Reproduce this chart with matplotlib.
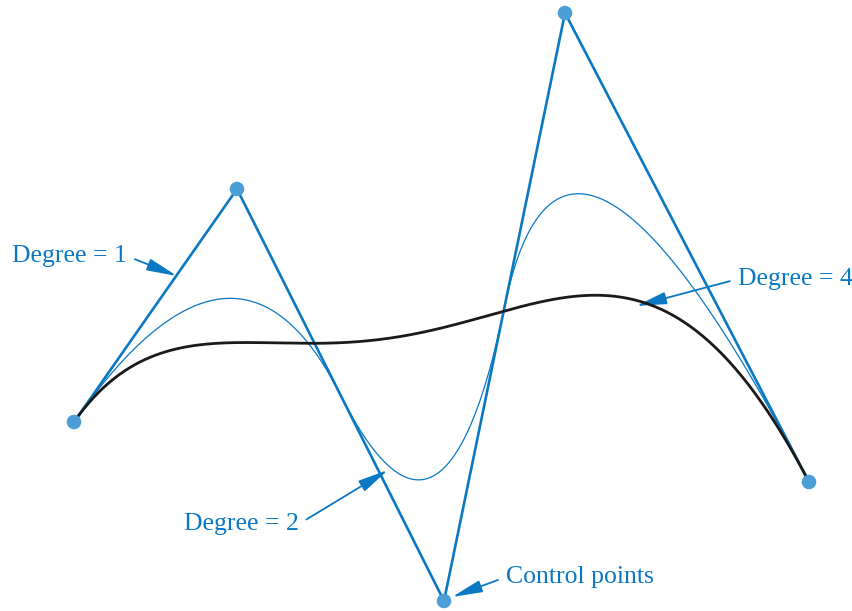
import numpy as np
import matplotlib.pyplot as plt

# Control points (pixel-like coordinates, y grows downward)
ctrl_x = np.array([74, 237, 444, 565, 809])
ctrl_y = np.array([422, 189, 601, 13, 482])

blue = '#0a78c2'
dot = '#4b9fd6'


def bspline(px, py, k, n=400):
    # clamped uniform B-spline of degree k
    m = len(px)
    inner = np.linspace(0, 1, m - k + 1)
    knots = np.concatenate([np.zeros(k), inner, np.ones(k)])
    t = np.linspace(0, 1, n)
    t[-1] = 1 - 1e-12
    N = np.zeros((n, len(knots) - 1))
    for i in range(len(knots) - 1):
        N[:, i] = (knots[i] <= t) & (t < knots[i + 1])
    for d in range(1, k + 1):
        Nn = np.zeros((n, len(knots) - 1 - d))
        for i in range(len(knots) - 1 - d):
            a = knots[i + d] - knots[i]
            b = knots[i + d + 1] - knots[i + 1]
            left = (t - knots[i]) / a * N[:, i] if a > 0 else 0
            right = (knots[i + d + 1] - t) / b * N[:, i + 1] if b > 0 else 0
            Nn[:, i] = left + right
        N = Nn
    return N @ px, N @ py


fig = plt.figure(figsize=(8.52, 6.11), dpi=100)
ax = fig.add_axes([0, 0, 1, 1])
ax.set_xlim(0, 852)
ax.set_ylim(611, 0)
ax.axis('off')

# Degree 1 (control polygon)
ax.plot(ctrl_x, ctrl_y, color=blue, lw=1.9, zorder=2)

# Degree 2
x2, y2 = bspline(ctrl_x, ctrl_y, 2)
ax.plot(x2, y2, color=blue, lw=0.9, zorder=3)

# Degree 4
x4, y4 = bspline(ctrl_x, ctrl_y, 4)
ax.plot(x4, y4, color='#1a1a1a', lw=2.0, zorder=4)

ax.scatter(ctrl_x, ctrl_y, s=110, color=dot, zorder=5, edgecolors='none')

fs = 18.5
font = 'Liberation Serif'


def arrow(rel):
    return dict(arrowstyle='-|>,head_length=1.0,head_width=0.2', color=blue, lw=1.3,
                shrinkA=4, shrinkB=0, relpos=rel)


ax.annotate('Degree = 1', xy=(177, 276), xytext=(12, 256), color=blue, fontsize=fs,
            family=font, va='center', ha='left', arrowprops=arrow((1, 0.5)))
ax.annotate('Degree = 2', xy=(388, 470), xytext=(299, 524), color=blue, fontsize=fs,
            family=font, va='center', ha='right', arrowprops=arrow((1, 0.5)))
ax.annotate('Control points', xy=(452, 597), xytext=(506, 577), color=blue, fontsize=fs,
            family=font, va='center', ha='left', arrowprops=arrow((0, 0.5)))
ax.annotate('Degree = 4', xy=(636, 306), xytext=(738, 279), color=blue, fontsize=fs,
            family=font, va='center', ha='left', arrowprops=arrow((0, 0.5)))

plt.savefig('out.png', dpi=100)
